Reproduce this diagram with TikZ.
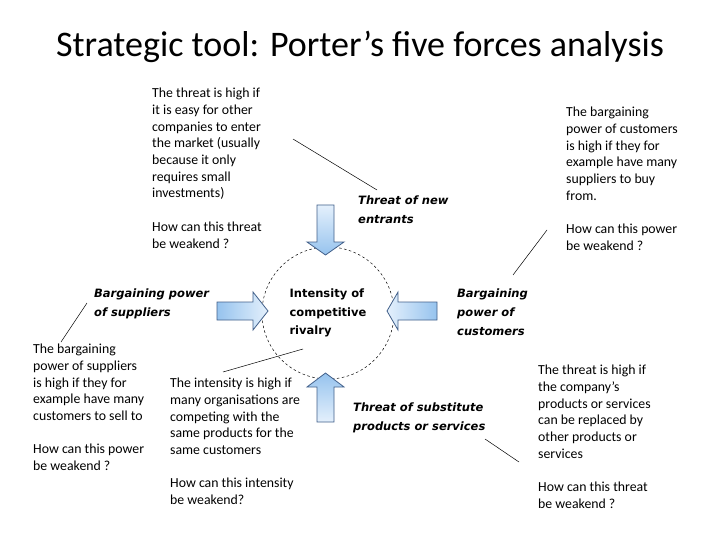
\documentclass[tikz,border=0pt]{standalone}
\usepackage{fontspec}
\setmainfont{Carlito}
\newfontfamily\forcefont{DejaVu Sans}
\definecolor{arrowline}{RGB}{66,96,138}
\definecolor{arrowblue}{RGB}{150,195,238}
\definecolor{arrowpale}{RGB}{228,240,252}

\begin{document}
\begin{tikzpicture}[x=1pt,y=-1pt,
  note/.style={anchor=north west,inner sep=0pt,align=left,font=\fontsize{13.8}{16.7}\selectfont},
  force/.style={anchor=north west,inner sep=0pt,align=left,font=\forcefont\bfseries\itshape\fontsize{11.5}{18.7}\selectfont},
  block/.style={draw=arrowline,line width=0.8pt,line join=miter},
  pointer/.style={line width=0.5pt}]
  \fill[white] (0,0) rectangle (720,540);
  \useasboundingbox (0,0) rectangle (720,540);
  \node[anchor=base] (title) at (360,57) {\fontsize{36}{40}\selectfont Strategic tool: Porter’s five forces analysis};
  % centre
  \node[circle,draw,dash pattern=on 2.5pt off 2.5pt,line width=0.5pt,minimum size=132pt,inner sep=0pt,align=left,
        font=\forcefont\bfseries\fontsize{11.5}{18.7}\selectfont] (rivalry) at (328,313) {Intensity of\\competitive\\rivalry};
  % the four block arrows
  \draw[block,top color=arrowpale,bottom color=arrowblue] (317,205) -- (334,205) -- (334,242) -- (344,242) -- (325.5,255) -- (307,242) -- (317,242) -- cycle;
  \draw[block,top color=arrowblue,bottom color=arrowpale] (317,422) -- (334,422) -- (334,387) -- (344,387) -- (325.5,373) -- (307,387) -- (317,387) -- cycle;
  \draw[block,left color=arrowpale,right color=arrowblue] (437,302) -- (437,320) -- (398,320) -- (398,330) -- (387,311) -- (398,292) -- (398,302) -- cycle;
  \draw[block,left color=arrowblue,right color=arrowpale] (217,302) -- (217,320) -- (253,320) -- (253,330) -- (268,311) -- (253,292) -- (253,302) -- cycle;
  % forces
  \node[force] (entrants) at (358,196) {Threat of new\\entrants};
  \node[force] (suppliers) at (94,289) {Bargaining power\\of suppliers};
  \node[force] (customers) at (457,289) {Bargaining\\power of\\customers};
  \node[force] (substitutes) at (353,403) {Threat of substitute\\products or services};
  % explanations
  \node[note] (entrtxt) at (152,88) {The threat is high if\\it is easy for other\\companies to enter\\the market (usually\\because it only\\requires small\\investments)\\[16.7pt]How can this threat\\be weakend ?};
  \node[note] (custtxt) at (566,107) {The bargaining\\power of customers\\is high if they for\\example have many\\suppliers to buy\\from.\\[16.7pt]How can this power\\be weakend ?};
  \node[note] (supptxt) at (33,344) {The bargaining\\power of suppliers\\is high if they for\\example have many\\customers to sell to\\[16.7pt]How can this power\\be weakend ?};
  \node[note] (rivaltxt) at (170,378) {The intensity is high if\\many organisations are\\competing with the\\same products for the\\same customers\\[16.7pt]How can this intensity\\be weakend?};
  \node[note] (substtxt) at (538,365) {The threat is high if\\the company’s\\products or services\\can be replaced by\\other products or\\services\\[16.7pt]How can this threat\\be weakend ?};
  % pointer lines
  \coordinate (entrA) at (293,139);
  \coordinate (entrB) at (377,190);
  \coordinate (custA) at (513,275);
  \coordinate (custB) at (547,230);
  \coordinate (suppA) at (61,342);
  \coordinate (suppB) at (87,303);
  \coordinate (rivalA) at (223,372);
  \coordinate (rivalB) at (303,349);
  \coordinate (substA) at (485,439);
  \coordinate (substB) at (519,462);
  \draw[pointer] (entrA) -- (entrB);
  \draw[pointer] (custA) -- (custB);
  \draw[pointer] (suppA) -- (suppB);
  \draw[pointer] (rivalA) -- (rivalB);
  \draw[pointer] (substA) -- (substB);
\end{tikzpicture}
\end{document}
